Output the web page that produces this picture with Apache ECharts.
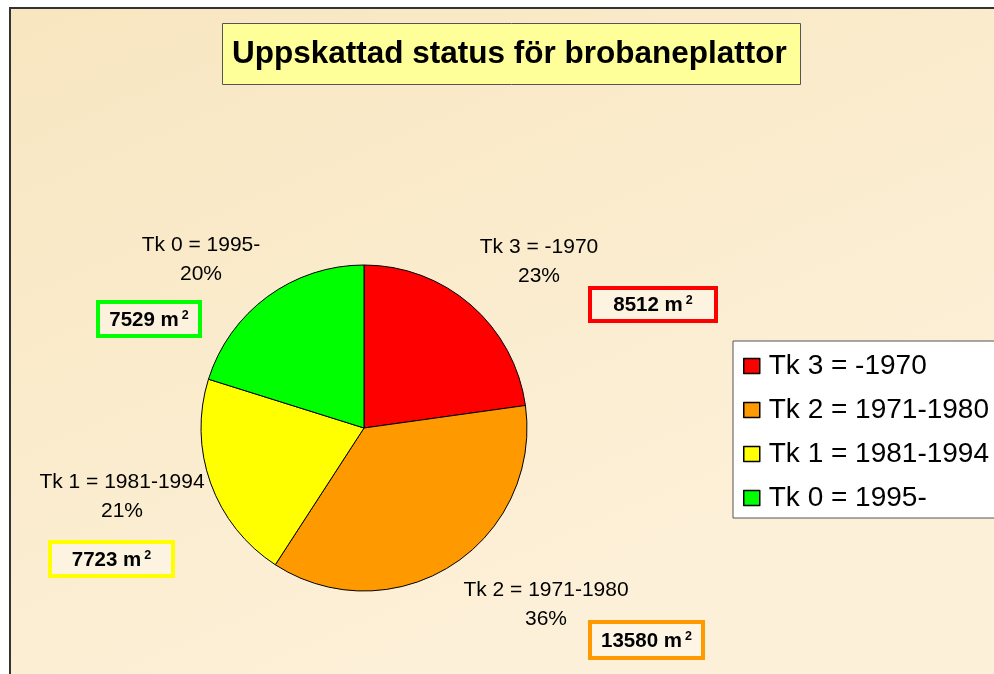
<!DOCTYPE html>
<html lang="sv">
<head>
    <meta charset="utf-8">
    <title>Uppskattad status för brobaneplattor</title>
    <script src="https://cdn.jsdelivr.net/npm/echarts@6/dist/echarts.min.js"></script>
    <style>
        html, body { margin: 0; padding: 0; background: #fff; }
        #main { width: 994px; height: 674px; }
    </style>
</head>
<body>
<div id="main"></div>
<script type="text/javascript">
    // data
    var names = ['Tk 3 = -1970', 'Tk 2 = 1971-1980', 'Tk 1 = 1981-1994', 'Tk 0 = 1995-'];
    var areas = [8512, 13580, 7723, 7529];
    var colors = ['#FF0000', '#FF9900', '#FFFF00', '#00FF00'];

    // where the name/percent labels and the m2 boxes sit (layout only)
    var labelPos = [[539, 262], [546, 605], [122, 497], [201, 260]];
    var boxPos = [[588, 286, 130, 37], [588, 620, 117, 40], [48, 540, 127, 38], [96, 300, 106, 38]];

    var font = 'Arial, "Liberation Sans", sans-serif';

    var pieData = [];
    for (var i = 0; i < names.length; i++) {
        pieData.push({name: names[i], value: areas[i], itemStyle: {color: colors[i]}});
    }

    // boxes with the area values
    var boxes = [];
    for (var j = 0; j < areas.length; j++) {
        var b = boxPos[j];
        boxes.push({
            type: 'group',
            z: 100,
            children: [
                {
                    type: 'rect',
                    shape: {x: b[0] + 2, y: b[1] + 2, width: b[2] - 4, height: b[3] - 4},
                    style: {fill: 'rgba(255,255,255,0.35)', stroke: colors[j], lineWidth: 4}
                },
                {
                    type: 'text',
                    x: b[0] + b[2] / 2,
                    y: b[1] + b[3] / 2 + 1,
                    style: {
                        text: '{v|' + areas[j] + ' m}{s|2}',
                        align: 'center',
                        verticalAlign: 'middle',
                        rich: {
                            v: {fontSize: 20.5, fontWeight: 'bold', fontFamily: font, fill: '#000', lineHeight: 22},
                            s: {fontSize: 12.5, fontWeight: 'bold', fontFamily: font, fill: '#000',
                                verticalAlign: 'top', padding: [0, 0, 0, 3], lineHeight: 22}
                        }
                    }
                }
            ]
        });
    }

    var myChart = echarts.init(document.getElementById('main'));
    var option = {
        backgroundColor: '#fff',
        animation: false,
        title: {
            text: 'Uppskattad status för brobaneplattor',
            left: 222,
            top: 23,
            padding: [15, 14, 15, 10],
            backgroundColor: '#FFFF99',
            borderColor: '#555',
            borderWidth: 1,
            textStyle: {fontSize: 31.5, fontWeight: 'bold', fontFamily: font, color: '#000', lineHeight: 32}
        },
        legend: {
            orient: 'vertical',
            left: 733,
            top: 341,
            padding: [11, 40, 6, 10],
            backgroundColor: '#fff',
            borderColor: '#555',
            borderWidth: 1,
            icon: 'rect',
            itemWidth: 16,
            itemHeight: 15,
            itemGap: 16,
            itemStyle: {borderColor: '#000', borderWidth: 1.5},
            textStyle: {fontSize: 28, fontFamily: font, color: '#000', lineHeight: 26, padding: [0, 0, 0, 4]},
            data: names
        },
        graphic: [
            {
                type: 'rect',
                z: -10,
                silent: true,
                shape: {x: 10, y: 8, width: 1000, height: 700},
                style: {
                    fill: new echarts.graphic.LinearGradient(0, 0, 0.3, 1, [
                        {offset: 0, color: '#F8E6C0'},
                        {offset: 0.5, color: '#FAEBCC'},
                        {offset: 1, color: '#FDF0D8'}
                    ]),
                    stroke: '#333',
                    lineWidth: 2
                }
            }
        ].concat(boxes),
        series: [
            {
                type: 'pie',
                center: [364, 428],
                radius: 163,
                startAngle: 90,
                clockwise: true,
                percentPrecision: 0,
                itemStyle: {borderColor: '#000', borderWidth: 1},
                emphasis: {disabled: true},
                label: {
                    show: true,
                    position: 'outside',
                    formatter: '{b}\n{d}%',
                    fontSize: 21,
                    fontFamily: font,
                    color: '#000',
                    lineHeight: 29,
                    align: 'center',
                    overflow: 'none'
                },
                labelLine: {show: false},
                labelLayout: function (params) {
                    var p = labelPos[params.dataIndex];
                    return {x: p[0], y: p[1], align: 'center', verticalAlign: 'middle'};
                },
                data: pieData
            }
        ]
    };
    myChart.setOption(option);
</script>
</body>
</html>
